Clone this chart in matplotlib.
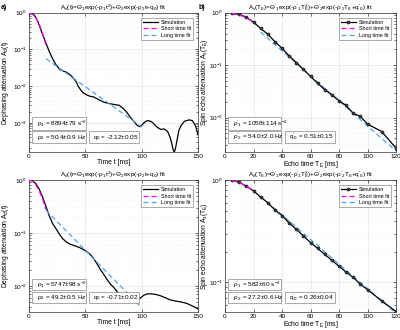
import matplotlib.pyplot as plt
import matplotlib.patches as patches

plt.rcParams['font.family'] = ['Liberation Sans', 'DejaVu Sans']
plt.rcParams['mathtext.fontset'] = 'custom'
plt.rcParams['mathtext.rm'] = 'Liberation Sans'
plt.rcParams['mathtext.it'] = 'Liberation Sans'
plt.rcParams['mathtext.bf'] = 'Liberation Sans:bold'

BLUE = '#4da3f5'
MAG = '#ff00ff'

# ---- a) top: dephasing, case 1
t_a1 = [0, 2, 4, 6, 8, 10, 12, 15, 18, 21, 24, 27, 30, 33, 36, 39, 42, 44, 46, 48, 51, 54,
        57, 60, 63, 67, 72, 77, 80, 84, 87, 90, 93, 96, 98.5, 100, 102, 105, 108, 110, 112,
        114, 117, 120, 123, 125, 126.5, 128, 129, 130, 131.5, 133, 135, 138, 142, 145, 148, 150]
A_a1 = [1.0, 0.98, 0.9, 0.75, 0.56, 0.38, 0.26, 0.15, 0.088, 0.055, 0.038, 0.029, 0.026,
        0.024, 0.021, 0.017, 0.013, 0.0095, 0.0078, 0.0066, 0.0058, 0.0053, 0.0051, 0.0046,
        0.0041, 0.0036, 0.0033, 0.0031, 0.003, 0.0024, 0.0019, 0.0014, 0.0011, 0.00085,
        0.00078, 0.00085, 0.001, 0.00115, 0.0011, 0.001, 0.00085, 0.00075, 0.00066, 0.00068,
        0.00058, 0.00042, 0.00029, 0.00018, 0.00016, 0.0002, 0.00035, 0.00062, 0.00085,
        0.0011, 0.0012, 0.00115, 0.0008, 0.00047]
t_short_a1 = [0, 3, 6, 9, 12, 15]
A_short_a1 = [1.0, 0.92, 0.73, 0.49, 0.28, 0.135]
t_long_a1 = [15, 100]
A_long_a1 = [0.056, 0.00078]
box_a1 = [r'$\rho_1$ = 8894$\pm$79 s$^{-2}$', r'$\rho_2$ = 50.4$\pm$0.9 Hz', r'$q_0$ = -2.12$\pm$0.05']

# ---- a) bottom: dephasing, case 2
t_a2 = [0, 3, 6, 9, 12, 15, 18, 21, 24, 27, 30, 33, 36, 39, 42, 45, 48, 51, 54, 57, 60, 63,
        66, 69, 72, 75, 78, 81, 84, 87, 90, 93, 96, 98, 100, 102, 105, 108, 111, 114, 117,
        121, 125, 130, 135, 140, 145, 150]
A_a2 = [1.0, 0.96, 0.86, 0.68, 0.48, 0.32, 0.21, 0.15, 0.12, 0.095, 0.078, 0.068, 0.062,
        0.059, 0.056, 0.053, 0.049, 0.045, 0.04, 0.034, 0.027, 0.021, 0.017, 0.0135, 0.011,
        0.0095, 0.0079, 0.007, 0.0063, 0.0059, 0.0056, 0.0055, 0.0055, 0.0057, 0.0062,
        0.0067, 0.0071, 0.0071, 0.007, 0.0068, 0.0065, 0.006, 0.0055, 0.0052, 0.005,
        0.0047, 0.0042, 0.0037]
t_short_a2 = [0, 3, 6, 9, 12, 15]
A_short_a2 = [1.0, 0.95, 0.81, 0.63, 0.44, 0.28]
t_long_a2 = [15, 98]
A_long_a2 = [0.27, 0.0043]
box_a2 = [r'$\rho_1$ = 5747$\pm$98 s$^{-2}$', r'$\rho_2$ = 49.2$\pm$0.5 Hz', r'$q_0$ = -0.71$\pm$0.02']

# ---- b) top: spin echo, case 1
TE = [5, 10, 15, 20, 25, 30, 35, 40, 45, 50, 55, 60, 65, 70, 75, 80, 85, 90, 95, 100, 110, 120]
A_b1 = [0.97, 0.93, 0.82, 0.66, 0.5, 0.39, 0.28, 0.21, 0.15, 0.112, 0.083, 0.061, 0.045,
        0.034, 0.027, 0.021, 0.017, 0.012, 0.0105, 0.0075, 0.0054, 0.0026]
TE_short_b1 = [5, 10, 15, 20]
A_short_b1 = [0.97, 0.91, 0.8, 0.66]
TE_long_b1 = [25, 120]
A_long_b1 = [0.43, 0.0023]
box_b1 = [r"$\rho'_1$ = 1058$\pm$114 s$^{-2}$", r"$\rho'_2$ = 54.0$\pm$2.0 Hz", r"$q'_0$ = 0.51$\pm$0.15"]

# ---- b) bottom: spin echo, case 2
A_b2 = [0.99, 0.95, 0.87, 0.785, 0.68, 0.6, 0.51, 0.45, 0.38, 0.33, 0.285, 0.245, 0.215,
        0.188, 0.164, 0.144, 0.126, 0.112, 0.096, 0.085, 0.066, 0.052]
TE_short_b2 = [5, 10, 15, 20]
A_short_b2 = [0.99, 0.95, 0.87, 0.78]
TE_long_b2 = [25, 120]
A_long_b2 = [0.69, 0.05]
box_b2 = [r"$\rho'_1$ = 582$\pm$60 s$^{-2}$", r"$\rho'_2$ = 27.2$\pm$0.6 Hz", r"$q'_0$ = 0.26$\pm$0.04"]

title_a = r'$A_d(t)$=$\Theta_1$exp(-$\rho_1t^2$)+$\Theta_2$exp(-$\rho_2t$+$q_0$) fit'
title_b1 = r"$A_s(T_E)$=$\Theta'_1$exp(-$\rho'_1T_E^2$)+$\Theta'_2$exp(-$\rho'_2T_E$+$q'_0$) fit"
title_b2 = r"$A_d(T_E)$=$\Theta'_1$exp(-$\rho'_1T_E^2$)+$\Theta'_2$exp(-$\rho'_2T_E$+$q'_0$) fit"

FS = 4.6


def style(ax, xlim, ylim, xticks, xlabel, ylabel, title, ylab_x):
    ax.set_yscale('log')
    ax.set_xlim(xlim)
    ax.set_ylim(ylim)
    ax.set_xticks(xticks)
    ax.tick_params(which='both', direction='in', labelsize=FS, length=2, width=0.4, pad=1.5)
    ax.tick_params(which='minor', length=1.2)
    ax.tick_params(top=True, right=True, which='both')
    ax.grid(True, which='major', color='#dddddd', linewidth=0.4)
    ax.grid(True, which='minor', axis='y', color='#e8e8e8', linewidth=0.3, linestyle=':')
    ax.set_axisbelow(True)
    for s in ax.spines.values():
        s.set_linewidth(0.5)
        s.set_color('#333333')
    ax.set_xlabel(xlabel, fontsize=FS + 0.3, labelpad=0.2)
    ax.set_ylabel(ylabel, fontsize=FS + 0.3)
    ax.yaxis.set_label_coords(ylab_x, 0.5)
    ax.set_title(title, fontsize=FS, pad=1.5)


def boxes(ax, texts, x1, w1, x3, w3):
    # two stacked boxes on the left, one to the right of the lower one
    spec = [(x1, 0.16, w1, 0.088, texts[0]),
            (x1, 0.065, w1, 0.083, texts[1]),
            (x3, 0.065, w3, 0.083, texts[2])]
    for x, y, w, h, s in spec:
        r = patches.Rectangle((x, y), w, h, transform=ax.transAxes, facecolor='white',
                              edgecolor='#888888', linewidth=0.5, zorder=5)
        ax.add_patch(r)
        ax.text(x + 0.025, y + h / 2, s, transform=ax.transAxes, fontsize=FS,
                va='center', ha='left', zorder=6)


def legend(ax):
    lg = ax.legend(loc='upper right', fontsize=FS - 0.7, frameon=True, fancybox=False,
                   edgecolor='#888888', framealpha=1, handlelength=2.8, borderpad=0.4,
                   labelspacing=0.3, handletextpad=0.5, borderaxespad=0.9)
    lg.get_frame().set_linewidth(0.5)


fig = plt.figure(figsize=(4, 3.3), dpi=100)
ax1 = fig.add_axes([0.0725, 1 - 152 / 330, 0.4225, 139.3 / 330])
ax2 = fig.add_axes([0.5625, 1 - 152 / 330, 0.4275, 139.3 / 330])
ax3 = fig.add_axes([0.0725, 1 - 311.5 / 330, 0.4225, 131.5 / 330])
ax4 = fig.add_axes([0.5625, 1 - 311.5 / 330, 0.4275, 131.5 / 330])

for ax, t, A, ts, As, tl, Al, bx, yl in [
        (ax1, t_a1, A_a1, t_short_a1, A_short_a1, t_long_a1, A_long_a1, box_a1, (1.6e-4, 1)),
        (ax3, t_a2, A_a2, t_short_a2, A_short_a2, t_long_a2, A_long_a2, box_a2, (3.3e-3, 1))]:
    ax.plot(t, A, color='black', lw=0.9, label='Simulation', zorder=3)
    ax.plot(ts, As, color=MAG, lw=0.9, ls=(0, (4, 2.5)), label='Short time fit', zorder=4)
    ax.plot(tl, Al, color=BLUE, lw=0.9, ls=(0, (4, 2.5)), label='Long time fit', zorder=4)
    style(ax, (0, 150), yl, [0, 50, 100, 150], 'Time t [ms]',
          r'Dephasing attenuation $A_d$(t)', title_a, -0.108)
    boxes(ax, bx, 0.02, 0.32, 0.355, 0.295)
    legend(ax)

for ax, A, ts, As, tl, Al, bx, yl, ttl in [
        (ax2, A_b1, TE_short_b1, A_short_b1, TE_long_b1, A_long_b1, box_b1, (2.2e-3, 1), title_b1),
        (ax4, A_b2, TE_short_b2, A_short_b2, TE_long_b2, A_long_b2, box_b2, (0.052, 1), title_b2)]:
    ax.plot(TE, A, color='black', lw=0.9, marker='o', ms=2.2, mfc='#444444', mec='black',
            mew=0.4, label='Simulation', zorder=3)
    ax.plot(ts, As, color=MAG, lw=0.9, ls=(0, (4, 2.5)), label='Short time fit', zorder=4)
    ax.plot(tl, Al, color=BLUE, lw=0.9, ls=(0, (4, 2.5)), label='Long time fit', zorder=2)
    style(ax, (0, 120), yl, [0, 20, 40, 60, 80, 100, 120], r'Echo time $T_E$ [ms]',
          r'Spin echo attenuation $A_s(T_E)$', ttl, -0.088)
    boxes(ax, bx, 0.02, 0.31, 0.35, 0.295)
    legend(ax)

fig.text(0.003, 0.978, 'a)', fontsize=5, fontweight='bold', va='center')
fig.text(0.497, 0.978, 'b)', fontsize=5, fontweight='bold', va='center')

fig.savefig('out.png', dpi=100)
